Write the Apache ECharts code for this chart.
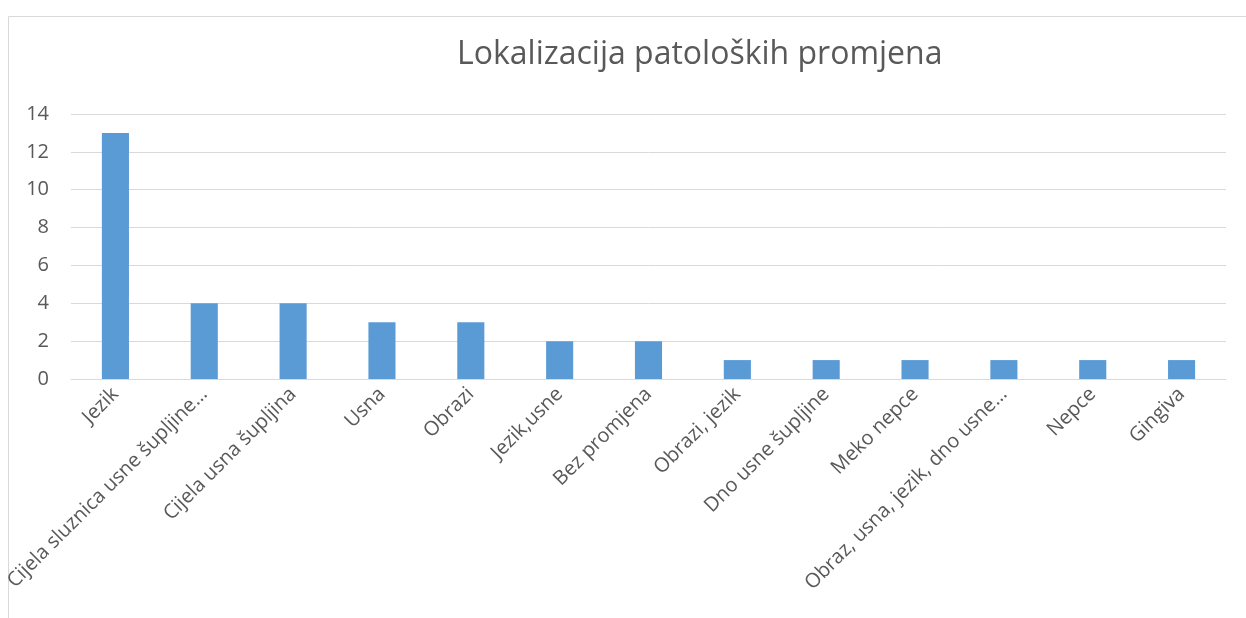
<!DOCTYPE html>
<html>
<head>
<meta charset="utf-8">
<script src="https://cdn.jsdelivr.net/npm/echarts@6/dist/echarts.min.js"></script>
<style>
html,body{margin:0;padding:0;background:#fff;}
#c{width:1246px;height:618px;}
</style>
</head>
<body>
<div id="c"></div>
<script>
const titleText = 'Lokalizacija patoloških promjena';
const categories = ['Jezik','Cijela sluznica usne šupljine…','Cijela usna šupljina','Usna','Obrazi','Jezik,usne','Bez promjena','Obrazi, jezik','Dno usne šupljine','Meko nepce','Obraz, usna, jezik, dno usne…','Nepce','Gingiva'];
const values = [13,4,4,3,3,2,2,1,1,1,1,1,1];
const yTicks = {min:0, max:14, interval:2};

const chart = echarts.init(document.getElementById('c'), null, {renderer:'canvas'});
chart.setOption({
  animation:false,
  backgroundColor:'#fff',
  textStyle:{fontFamily:'Open Sans'},
  graphic:[{type:'rect',shape:{x:8.5,y:16.5,width:1300,height:700},style:{fill:'none',stroke:'#d9d9d9',lineWidth:1},silent:true,z:-1}],
  title:{text:titleText,left:452,top:34,textStyle:{fontFamily:'Open Sans',fontSize:32,fontWeight:'normal',color:'#595959'}},
  grid:{left:71,right:20,top:114,bottom:239,containLabel:false},
  xAxis:{type:'category',data:categories,
    axisLine:{lineStyle:{color:'#d9d9d9',width:1}},
    axisTick:{show:false},
    axisLabel:{rotate:45,interval:0,fontSize:20,color:'#595959',margin:12,fontFamily:'Open Sans'}},
  yAxis:{type:'value',min:yTicks.min,max:yTicks.max,interval:yTicks.interval,
    axisLine:{show:false},axisTick:{show:false},
    splitLine:{lineStyle:{color:'#d9d9d9',width:1}},
    axisLabel:{fontSize:20,color:'#595959',margin:22,fontFamily:'Open Sans'}},
  series:[{type:'bar',data:values,barWidth:'30.5%',itemStyle:{color:'#5b9bd5'}}]
});
</script>
</body>
</html>
